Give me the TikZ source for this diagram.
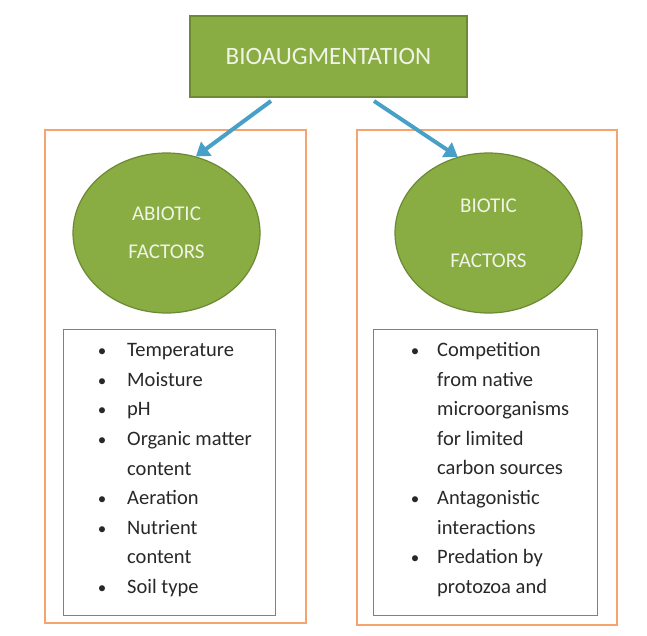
\documentclass[tikz,border=0pt]{standalone}
\usepackage{fontspec}
\setmainfont{Carlito}
\usetikzlibrary{arrows.meta,shapes.geometric,calc}
\definecolor{gfill}{RGB}{137,172,67}
\definecolor{gdraw}{RGB}{108,138,52}
\definecolor{oline}{RGB}{244,164,108}
\definecolor{bline}{RGB}{128,128,128}
\definecolor{arrowc}{RGB}{72,160,200}
\definecolor{ttext}{RGB}{240,244,230}
\definecolor{ltext}{RGB}{40,40,40}
\tikzset{
  titlebox/.style={draw=gdraw, line width=1.5pt, fill=gfill, minimum width=277pt, minimum height=81pt, inner sep=0pt, text=ttext, font=\fontsize{25}{30}\selectfont},
  factor/.style={ellipse, draw=gdraw, line width=1.2pt, fill=gfill, minimum width=187pt, minimum height=160pt, inner sep=0pt, text=ttext, align=center},
  frame/.style={draw=oline, line width=2pt},
  listbox/.style={draw=bline, line width=1pt},
  bul/.style={anchor=base, text=ltext, font=\fontsize{17}{20}\selectfont, inner sep=0pt},
  itm/.style={anchor=base west, text=ltext, font=\fontsize{20.5}{24}\selectfont, inner sep=0pt},
  conn/.style={draw=arrowc, line width=4pt, -{Triangle[length=13pt,width=17pt]}}
}
\begin{document}
\begin{tikzpicture}[x=1pt,y=-1pt]
\useasboundingbox (0,0) rectangle (647,635);
\fill[white] (0,0) rectangle (647,635);
% frames
\draw[frame] (45,130) rectangle (306,623);
\draw[frame] (357,130) rectangle (617,625);
% title
\node[titlebox] (title) at (328.5,56.5) {BIOAUGMENTATION};
% ellipses
\node[factor, font=\fontsize{21}{38}\selectfont] (abio) at (166.5,233) {ABIOTIC\\FACTORS};
\node[factor, font=\fontsize{21}{55}\selectfont] (bio) at (488.5,233) {BIOTIC\\FACTORS};
% list boxes
\draw[listbox] (63,329) rectangle (275,615);
\draw[listbox] (373,329) rectangle (597,615);
% arrows
\coordinate (s1) at (271,101);
\coordinate (s2) at (374,101);
\draw[conn] (s1) -- (abio.69);
\draw[conn] (s2) -- (bio.112);
% left list
\foreach \y/\b/\t [count=\i] in {356/1/Temperature, 386/1/Moisture, 415/1/pH, 445/1/Organic matter, 475/0/content, 504/1/Aeration, 534/1/Nutrient, 563/0/content, 593/1/Soil type}{
  \node[itm] (l\i) at (127,\y) {\t};
  \ifnum\b=1 \node[bul] (lb\i) at (102,\y) {\textbullet}; \fi
}
% right list
\foreach \y/\b/\t [count=\i] in {356/1/Competition, 386/0/from native, 415/0/microorganisms, 445/0/for limited, 474/0/carbon sources, 504/1/Antagonistic, 534/0/interactions, 563/1/Predation by, 593/0/protozoa and}{
  \node[itm] (r\i) at (437,\y) {\t};
  \ifnum\b=1 \node[bul] (rb\i) at (415,\y) {\textbullet}; \fi
}
\end{tikzpicture}
\end{document}
